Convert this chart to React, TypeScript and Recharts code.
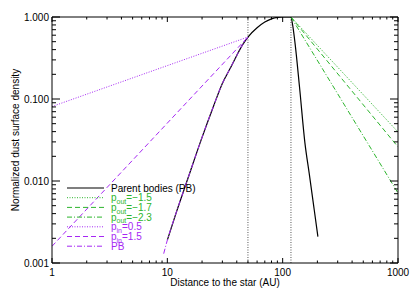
import React from "react";
import { LineChart, Line, XAxis, YAxis, ReferenceLine, Label } from "recharts";

const FONT = '"Liberation Sans", Arial, Helvetica, sans-serif';
const GREEN = "#2db52d";
const PURPLE = "#a628f4";

// Parent bodies profile (black)
const pbRadius = [10, 12, 15, 20, 25, 30, 35, 40, 45, 50, 60, 70, 80, 90, 100, 118, 122, 128, 140, 156, 170, 188, 202];
const pbDensity = [0.0019, 0.0042, 0.0105, 0.034, 0.08, 0.155, 0.235, 0.34, 0.46, 0.57, 0.74, 0.87, 0.95, 0.99, 1.0, 1.0, 0.8, 0.48, 0.14, 0.029, 0.0123, 0.0044, 0.0021];

// Inner PB profile (purple dash-dot)
const pbInnerRadius = [9.3, 10, 12, 15, 20, 25, 30, 35, 40, 45, 50];
const pbInnerDensity = [0.0013, 0.0019, 0.0042, 0.0105, 0.034, 0.08, 0.155, 0.235, 0.34, 0.46, 0.57];

// Inner power laws
const pinRadius = [1, 50];
const pin05Density = [0.081, 0.57];
const pin15Density = [0.0016, 0.57];

// Outer power laws
const poutRadius = [118, 1000];
const pout15Density = [1.0, 0.0396];
const pout17Density = [1.0, 0.026];
const pout23Density = [1.0, 0.00714];

// Ring edges
const ringEdges = [50, 118];

const xTicks = [1, 2, 3, 4, 5, 6, 7, 8, 9, 10, 20, 30, 40, 50, 60, 70, 80, 90, 100, 200, 300, 400, 500, 600, 700, 800, 900, 1000];
const yTicks = [0.001, 0.002, 0.003, 0.004, 0.005, 0.006, 0.007, 0.008, 0.009, 0.01, 0.02, 0.03, 0.04, 0.05, 0.06, 0.07, 0.08, 0.09, 0.1, 0.2, 0.3, 0.4, 0.5, 0.6, 0.7, 0.8, 0.9, 1];

const toPts = (r: number[], v: number[]) => r.map((x, i) => ({ r: x, v: v[i] }));

const isMajor = (v: number) => Math.abs(Math.log10(v) - Math.round(Math.log10(v))) < 1e-6;

const BottomTick = (props: any) => {
  const { x, y, payload } = props;
  const major = isMajor(payload.value);
  return (
    <g>
      <line x1={x} x2={x} y1={y} y2={y - (major ? 5 : 2.5)} stroke="#000" strokeWidth={1} />
      {major && (
        <text x={x} y={y + 13} textAnchor="middle" fontSize={10} fontFamily={FONT} fill="#000">
          {String(payload.value)}
        </text>
      )}
    </g>
  );
};

const TopTick = (props: any) => {
  const { x, y, payload } = props;
  const major = isMajor(payload.value);
  return <line x1={x} x2={x} y1={y} y2={y + (major ? 5 : 2.5)} stroke="#000" strokeWidth={1} />;
};

const LeftTick = (props: any) => {
  const { x, y, payload } = props;
  const major = isMajor(payload.value);
  return (
    <g>
      <line x1={x} x2={x + (major ? 8 : 4)} y1={y} y2={y} stroke="#000" strokeWidth={1} />
      {major && (
        <text x={x - 3} y={y} dy="0.36em" textAnchor="end" fontSize={10} fontFamily={FONT} fill="#000">
          {Number(payload.value).toFixed(3)}
        </text>
      )}
    </g>
  );
};

const RightTick = (props: any) => {
  const { x, y, payload } = props;
  const major = isMajor(payload.value);
  return <line x1={x} x2={x - (major ? 8 : 4)} y1={y} y2={y} stroke="#000" strokeWidth={1} />;
};

const legendItems = [
  { main: "Parent bodies (PB)", sub: "", rest: "", color: "#000", dash: undefined as string | undefined, width: 1.2 },
  { main: "p", sub: "out", rest: "=\u22121.5", color: GREEN, dash: "1 1.5", width: 1 },
  { main: "p", sub: "out", rest: "=\u22121.7", color: GREEN, dash: "5 3", width: 1 },
  { main: "p", sub: "out", rest: "=\u22122.3", color: GREEN, dash: "5 2 1 2", width: 1 },
  { main: "p", sub: "in", rest: "=0.5", color: PURPLE, dash: "1 1.5", width: 1 },
  { main: "p", sub: "in", rest: "=1.5", color: PURPLE, dash: "5 3", width: 1 },
  { main: "PB", sub: "", rest: "", color: PURPLE, dash: "5 2 1 2", width: 1 },
];

const LegendOverlay = () => (
  <svg width={415} height={297} style={{ position: "absolute", left: 0, top: 0, pointerEvents: "none" }}>
    {legendItems.map((it, i) => {
      const y = 188 + i * 9.7;
      return (
        <g key={i}>
          <line x1={67} x2={104} y1={y} y2={y} stroke={it.color} strokeWidth={it.width} strokeDasharray={it.dash} />
          <text x={111} y={y} dy="0.36em" fontSize={10} fontFamily={FONT} fill={it.color}>
            {it.main}
            {it.sub && (
              <tspan fontSize={7} dy={2.5}>
                {it.sub}
              </tspan>
            )}
            {it.sub && <tspan dy={-2.5}>{it.rest}</tspan>}
          </text>
        </g>
      );
    })}
  </svg>
);

export default function App() {
  return (
    <div style={{ position: "absolute", left: 0, top: 0, width: 415, height: 297, background: "#fff" }}>
      <LineChart width={415} height={297} margin={{ top: 16, right: 16, bottom: 33, left: 51 }}>
        <XAxis
          xAxisId="b"
          dataKey="r"
          type="number"
          scale="log"
          domain={[1, 1000]}
          ticks={xTicks}
          interval={0}
          height={1}
          tickSize={0}
          tickMargin={0}
          tickLine={false}
          tick={<BottomTick />}
          axisLine={{ stroke: "#000", strokeWidth: 1 }}
          allowDataOverflow
        >
          <Label
            content={() => (
              <text x={225} y={286} textAnchor="middle" fontSize={10} fontFamily={FONT} fill="#000">
                Distance to the star (AU)
              </text>
            )}
          />
        </XAxis>
        <XAxis
          xAxisId="t"
          orientation="top"
          dataKey="r"
          type="number"
          scale="log"
          domain={[1, 1000]}
          ticks={xTicks}
          interval={0}
          height={1}
          tickSize={0}
          tickMargin={0}
          tickLine={false}
          tick={<TopTick />}
          axisLine={{ stroke: "#000", strokeWidth: 1 }}
          allowDataOverflow
        />
        <YAxis
          yAxisId="l"
          dataKey="v"
          type="number"
          scale="log"
          domain={[0.001, 1]}
          ticks={yTicks}
          interval={0}
          width={1}
          tickSize={0}
          tickMargin={0}
          tickLine={false}
          tick={<LeftTick />}
          axisLine={{ stroke: "#000", strokeWidth: 1 }}
          allowDataOverflow
        >
          <Label
            content={() => (
              <text
                x={15}
                y={140}
                transform="rotate(-90 15 140)"
                textAnchor="middle"
                dy="0.36em"
                fontSize={10}
                fontFamily={FONT}
                fill="#000"
              >
                Normalized dust surface density
              </text>
            )}
          />
        </YAxis>
        <YAxis
          yAxisId="r"
          orientation="right"
          dataKey="v"
          type="number"
          scale="log"
          domain={[0.001, 1]}
          ticks={yTicks}
          interval={0}
          width={1}
          tickSize={0}
          tickMargin={0}
          tickLine={false}
          tick={<RightTick />}
          axisLine={{ stroke: "#000", strokeWidth: 1 }}
          allowDataOverflow
        />
        {ringEdges.map((e) => (
          <ReferenceLine key={e} xAxisId="b" yAxisId="l" x={e} stroke="#555" strokeWidth={1} strokeDasharray="1 1.5" />
        ))}
        <Line xAxisId="b" yAxisId="l" type="monotone" data={toPts(pbRadius, pbDensity)} dataKey="v" stroke="#000" strokeWidth={1.2} dot={false} isAnimationActive={false} />
        <Line xAxisId="b" yAxisId="l" data={toPts(poutRadius, pout15Density)} dataKey="v" stroke={GREEN} strokeWidth={1} strokeDasharray="1 1.5" dot={false} isAnimationActive={false} />
        <Line xAxisId="b" yAxisId="l" data={toPts(poutRadius, pout17Density)} dataKey="v" stroke={GREEN} strokeWidth={1} strokeDasharray="5 3" dot={false} isAnimationActive={false} />
        <Line xAxisId="b" yAxisId="l" data={toPts(poutRadius, pout23Density)} dataKey="v" stroke={GREEN} strokeWidth={1} strokeDasharray="5 2 1 2" dot={false} isAnimationActive={false} />
        <Line xAxisId="b" yAxisId="l" data={toPts(pinRadius, pin05Density)} dataKey="v" stroke={PURPLE} strokeWidth={1} strokeDasharray="1 1.5" dot={false} isAnimationActive={false} />
        <Line xAxisId="b" yAxisId="l" data={toPts(pinRadius, pin15Density)} dataKey="v" stroke={PURPLE} strokeWidth={1} strokeDasharray="5 3" dot={false} isAnimationActive={false} />
        <Line xAxisId="b" yAxisId="l" type="monotone" data={toPts(pbInnerRadius, pbInnerDensity)} dataKey="v" stroke={PURPLE} strokeWidth={1} strokeDasharray="5 2 1 2" dot={false} isAnimationActive={false} />
      </LineChart>
      <LegendOverlay />
    </div>
  );
}
